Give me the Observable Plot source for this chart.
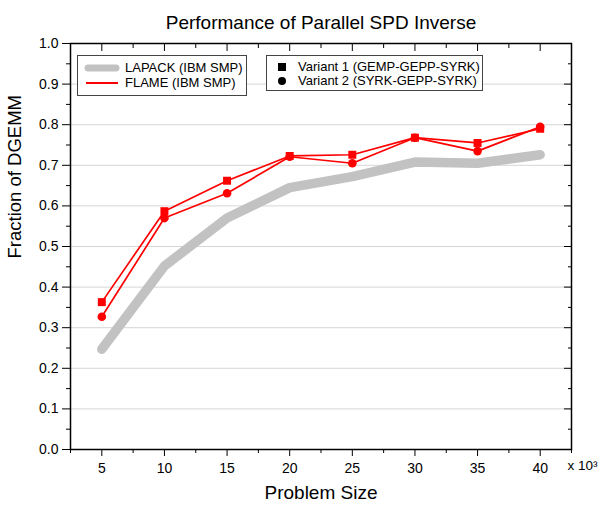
<!DOCTYPE html>
<html>
<head>
<meta charset="utf-8">
<script src="https://cdn.jsdelivr.net/npm/d3@7"></script>
<script src="https://cdn.jsdelivr.net/npm/@observablehq/plot@0.6"></script>
<style>
  body { margin: 0; background: #fff; font-family: "Liberation Sans", Arial, Helvetica, sans-serif; }
  #wrap { position: relative; width: 605px; height: 508px; }
  .legend { position: absolute; box-sizing: border-box; background: #fff; border: 1px solid #444; font-size: 13px; color: #000; }
  .legend .row { position: absolute; left: 0; height: 15px; line-height: 15px; white-space: nowrap; }
  .legend svg { position: absolute; top: 0; }
  .legend span { position: absolute; top: 0; }
</style>
</head>
<body>
<div id="wrap"></div>
<script>
// Problem size (in thousands) and fraction of DGEMM performance
const problemSizes = [5, 10, 15, 20, 25, 30, 35, 40];
const lapack = [0.247, 0.452, 0.570, 0.645, 0.672, 0.708, 0.705, 0.726];
const flameVariant1 = [0.363, 0.587, 0.662, 0.723, 0.726, 0.768, 0.755, 0.790];
const flameVariant2 = [0.327, 0.570, 0.631, 0.721, 0.705, 0.768, 0.735, 0.795];

const xTicks = [5, 10, 15, 20, 25, 30, 35, 40];
const xMinorTicks = [2.5, 7.5, 12.5, 17.5, 22.5, 27.5, 32.5, 37.5, 42.5];
const yTicks = [0, 0.1, 0.2, 0.3, 0.4, 0.5, 0.6, 0.7, 0.8, 0.9, 1.0];
const yMinorTicks = [0.05, 0.15, 0.25, 0.35, 0.45, 0.55, 0.65, 0.75, 0.85, 0.95];
const yGrid = [0.1, 0.2, 0.3, 0.4, 0.5, 0.6, 0.7, 0.8, 0.9];

const rows = (ys) => problemSizes.map((x, i) => ({x, y: ys[i]}));
const lapackRows = rows(lapack);
const v1Rows = rows(flameVariant1);
const v2Rows = rows(flameVariant2);

const font = '"Liberation Sans", Arial, Helvetica, sans-serif';
const blank = () => "";

const chart = Plot.plot({
  width: 605,
  height: 508,
  marginTop: 43,
  marginLeft: 70,
  marginRight: 34,
  marginBottom: 59,
  style: {fontFamily: font, fontSize: "14px", color: "#000", background: "#fff", overflow: "visible"},
  x: {domain: [2.5, 42.5]},
  y: {domain: [0, 1]},
  marks: [
    Plot.gridY(yGrid, {stroke: "#d6d6d6", strokeOpacity: 1, strokeWidth: 1}),
    Plot.line(lapackRows, {x: "x", y: "y", stroke: "#c2c2c2", strokeWidth: 9.5, strokeLinecap: "round", strokeLinejoin: "round"}),
    Plot.line(v1Rows, {x: "x", y: "y", stroke: "#ff0000", strokeWidth: 1.7}),
    Plot.line(v2Rows, {x: "x", y: "y", stroke: "#ff0000", strokeWidth: 1.7}),
    Plot.dot(v1Rows, {x: "x", y: "y", symbol: "square", r: 4.5, fill: "#ff0000"}),
    Plot.dot(v2Rows, {x: "x", y: "y", symbol: "circle", r: 4.3, fill: "#ff0000"}),
    Plot.frame({stroke: "#000", strokeWidth: 1.5}),
    // bottom and left axes, ticks outward
    Plot.axisX(xTicks, {anchor: "bottom", tickSize: 7, tickPadding: 7, label: null, fontSize: 14}),
    Plot.axisX(xMinorTicks, {anchor: "bottom", tickSize: 4, tickFormat: blank, label: null}),
    Plot.axisY(yTicks, {anchor: "left", tickSize: 8, tickPadding: 4, tickFormat: d3.format(".1f"), label: null, fontSize: 14}),
    Plot.axisY(yMinorTicks, {anchor: "left", tickSize: 4, tickFormat: blank, label: null}),
    // mirrored top and right axes, ticks inward
    Plot.axisX(xTicks, {anchor: "top", tickSize: -7, tickFormat: blank, label: null}),
    Plot.axisX(xMinorTicks, {anchor: "top", tickSize: -4, tickFormat: blank, label: null}),
    Plot.axisY(yTicks, {anchor: "right", tickSize: -8, tickFormat: blank, label: null}),
    Plot.axisY(yMinorTicks, {anchor: "right", tickSize: -4, tickFormat: blank, label: null}),
    // titles
    Plot.text(["Performance of Parallel SPD Inverse"], {frameAnchor: "top", dy: -28, fontSize: 19}),
    Plot.text(["Problem Size"], {frameAnchor: "bottom", dy: 49, fontSize: 19}),
    Plot.text(["Fraction of DGEMM"], {frameAnchor: "left", dx: -55, dy: 12, rotate: -90, fontSize: 18.5}),
    Plot.text(["x 10³"], {frameAnchor: "bottom-right", dx: -4, dy: 20, textAnchor: "start", fontSize: 13.5})
  ]
});

const wrap = document.getElementById("wrap");
wrap.appendChild(chart);

// Legends
function legendBox(left, top, width, height, entries) {
  const box = document.createElement("div");
  box.className = "legend";
  Object.assign(box.style, {left: left + "px", top: top + "px", width: width + "px", height: height + "px"});
  entries.forEach((e) => {
    const row = document.createElement("div");
    row.className = "row";
    row.style.top = e.top + "px";
    row.style.width = width + "px";
    const sw = d3.create("svg").attr("width", e.swatchWidth).attr("height", 15).style("left", e.swatchLeft + "px");
    e.draw(sw);
    row.appendChild(sw.node());
    const label = document.createElement("span");
    label.style.left = e.textLeft + "px";
    label.textContent = e.label;
    row.appendChild(label);
    box.appendChild(row);
  });
  wrap.appendChild(box);
}

legendBox(77, 55, 170, 41, [
  {top: 4, swatchLeft: 6, swatchWidth: 36, textLeft: 47, label: "LAPACK (IBM SMP)",
   draw: (s) => s.append("line").attr("x1", 4).attr("x2", 32).attr("y1", 8).attr("y2", 8)
     .attr("stroke", "#c2c2c2").attr("stroke-width", 7).attr("stroke-linecap", "round")},
  {top: 19, swatchLeft: 6, swatchWidth: 36, textLeft: 47, label: "FLAME (IBM SMP)",
   draw: (s) => s.append("line").attr("x1", 2).attr("x2", 34).attr("y1", 8).attr("y2", 8)
     .attr("stroke", "#ff0000").attr("stroke-width", 2)}
]);

legendBox(266, 55, 217, 36, [
  {top: 3, swatchLeft: 8, swatchWidth: 14, textLeft: 31, label: "Variant 1 (GEMP-GEPP-SYRK)",
   draw: (s) => s.append("rect").attr("x", 3).attr("y", 4).attr("width", 8).attr("height", 8).attr("fill", "#000")},
  {top: 17, swatchLeft: 8, swatchWidth: 14, textLeft: 31, label: "Variant 2 (SYRK-GEPP-SYRK)",
   draw: (s) => s.append("circle").attr("cx", 7).attr("cy", 8).attr("r", 4).attr("fill", "#000")}
]);
</script>
</body>
</html>
